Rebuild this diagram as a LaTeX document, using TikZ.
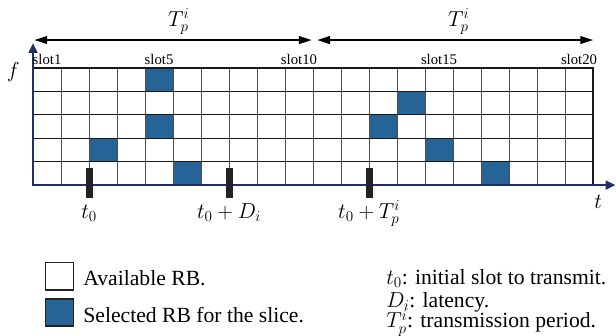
\RequirePackage{fix-cm}
\documentclass[tikz,border=0pt]{standalone}
\usepackage{fontspec}
\setmainfont{Liberation Serif}
\usepackage{tikz}
\usetikzlibrary{
  arrows.meta,
  positioning
}
\definecolor{rbblue}{RGB}{38,100,152}
\definecolor{axisnavy}{RGB}{30,48,100}
\definecolor{barblack}{RGB}{35,35,35}

\tikzset{
  axisline/.style={axisnavy, line width=2.2pt,
    {Triangle[length=10pt,width=9pt]}-{Triangle[length=10pt,width=9pt]}},
  periodarrow/.style={black, line width=1.5pt,
    {Triangle[length=13pt,width=8pt]}-{Triangle[length=13pt,width=8pt]}},
  markbar/.style={fill=barblack, inner sep=0pt, minimum width=0.25cm, minimum height=1.07cm},
  legbox/.style={draw=barblack, line width=1.8pt, inner sep=0pt, minimum width=1.0cm, minimum height=0.97cm},
  slotlabel/.style={font=\fontsize{15}{18}\selectfont, anchor=base, inner sep=0pt},
  legtext/.style={anchor=base west, inner sep=0pt}
}

\begin{document}
\begin{tikzpicture}[font=\fontsize{22}{26}\selectfont]
  \useasboundingbox (-1.18,-5.36) rectangle (20.82,6.61);

  % Selected RBs: column / row (row 1 at the top)
  \foreach \c/\r in {5/1, 5/3, 3/4, 6/5, 14/2, 13/3, 15/4, 17/5} {
    \fill[rbblue] (\c-1, 4.18-\r*0.836) rectangle (\c, 4.18-\r*0.836+0.836);
  }

  % Grid lines
  \foreach \i in {1,...,19} {
    \draw[black!70, line width=0.8pt] (\i, 0) -- (\i, 4.18);
  }
  \foreach \j in {1,...,4} {
    \draw[black!90, line width=1pt] (0, \j*0.836) -- (20, \j*0.836);
  }
  \draw[black!90, line width=1.3pt] (0, 4.18) -- (20, 4.18) -- (20, 0);

  % Axes
  \coordinate (origin) at (0, 0);
  \coordinate (ftip) at (0, 5.07);
  \coordinate (ttip) at (20.8, 0);
  \draw[axisline] (ftip) -- (origin) -- (ttip);
  \node (flabel) at (-0.71, 4.04) {$f$};
  \node (tlabel) at (20.18, -0.61) {$t$};

  % Slot labels
  \foreach \s in {1, 5, 10, 15, 20} {
    \node[slotlabel] (slot\s) at (\s-0.5, 4.29) {slot\s};
  }

  % Transmission periods
  \coordinate (pa) at (0.05, 5.18);
  \coordinate (pb) at (9.95, 5.18);
  \coordinate (pc) at (10.15, 5.18);
  \coordinate (pd) at (20.0, 5.18);
  \draw[periodarrow] (pa) -- (pb);
  \draw[periodarrow] (pc) -- (pd);
  \node[anchor=base, inner sep=0pt] (tpone) at (5.2, 5.68) {$T_p^i$};
  \node[anchor=base, inner sep=0pt] (tptwo) at (15.2, 5.68) {$T_p^i$};

  % Time markers
  \node[markbar] (mstart) at (2, 0.075) {};
  \node[markbar] (mlat) at (7, 0.075) {};
  \node[markbar] (mper) at (12, 0.075) {};
  \node[anchor=base] (lstart) at (2, -1.18) {$t_0$};
  \node[anchor=base] (llat) at (7, -1.18) {$t_0+D_i$};
  \node[anchor=base] (lper) at (12, -1.18) {$t_0+T_p^i$};

  % Legend
  \node[legbox, fill=white] (availbox) at (0.945, -3.25) {};
  \node[legbox, fill=rbblue] (selbox) at (0.945, -4.55) {};
  \node[legtext] (availtxt) at (1.79, -3.6) {Available RB.};
  \node[legtext] (seltxt) at (1.79, -4.9) {Selected RB for the slice.};

  \node[legtext] (defstart) at (12.61, -3.55) {$t_0$: initial slot to transmit.};
  \node[legtext] (deflat) at (12.61, -4.38) {$D_i$: latency.};
  \node[legtext] (defper) at (12.61, -5.1) {$T_p^i$: transmission period.};
\end{tikzpicture}
\end{document}
